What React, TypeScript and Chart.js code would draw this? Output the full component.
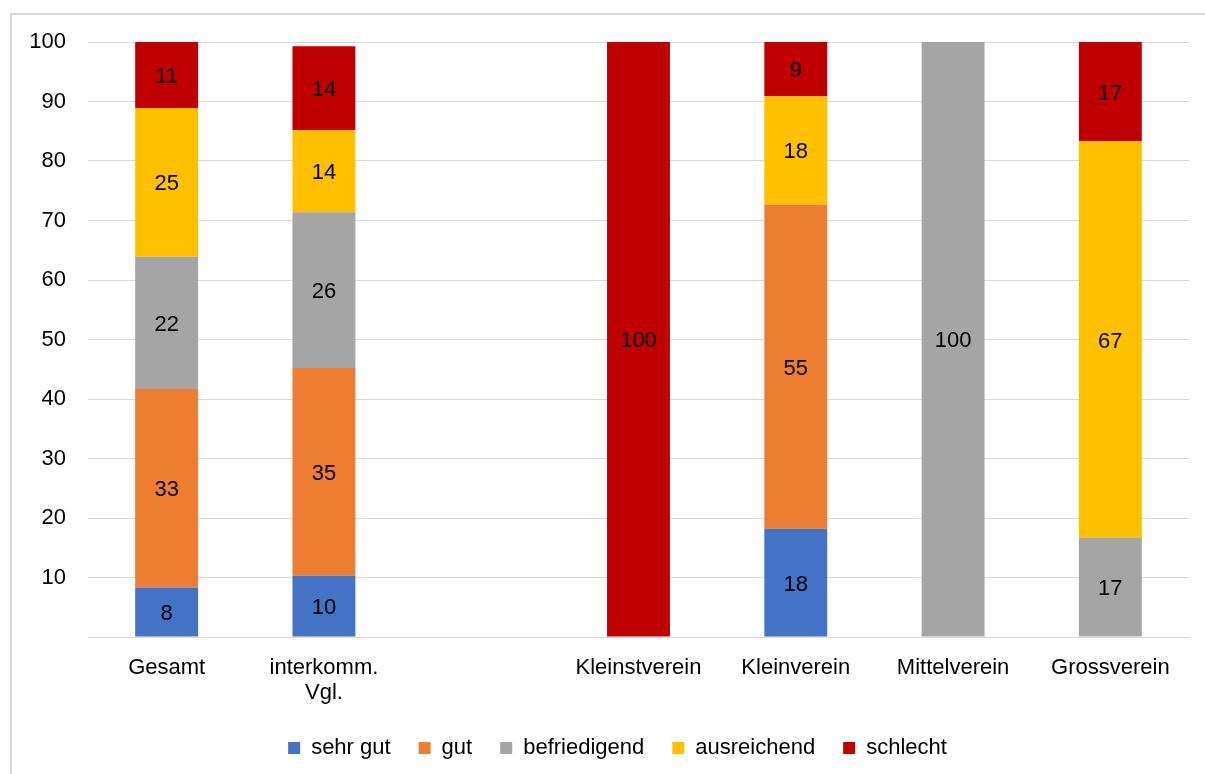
import React, { useEffect, useRef } from "react";
import { Chart, registerables } from "chart.js";

Chart.register(...registerables);

const categories: (string | string[])[] = [
  "Gesamt",
  ["interkomm.", "Vgl."],
  "",
  "Kleinstverein",
  "Kleinverein",
  "Mittelverein",
  "Grossverein",
];

const seriesNames = ["sehr gut", "gut", "befriedigend", "ausreichend", "schlecht"];
const seriesColors = ["#4472C4", "#ED7D31", "#A5A5A5", "#FFC000", "#C00000"];

const sehrGut = [8.3, 10.3, null, 0, 18.2, 0, 0];
const gut = [33.4, 34.9, null, 0, 54.5, 0, 0];
const befriedigend = [22.2, 26.2, null, 0, 0, 100, 16.7];
const ausreichend = [25.0, 13.8, null, 0, 18.2, 0, 66.6];
const schlecht = [11.1, 14.1, null, 100, 9.1, 0, 16.7];

const yTicks = [10, 20, 30, 40, 50, 60, 70, 80, 90, 100];

const FONT = "'Liberation Sans', Arial, sans-serif";
const FS = 22;

const valueLabels = {
  id: "valueLabels",
  afterDatasetsDraw(chart: any) {
    const ctx = chart.ctx;
    ctx.save();
    ctx.font = `${FS}px ${FONT}`;
    ctx.fillStyle = "#000";
    ctx.textAlign = "center";
    ctx.textBaseline = "middle";
    chart.data.datasets.forEach((ds: any, di: number) => {
      const meta = chart.getDatasetMeta(di);
      meta.data.forEach((el: any, i: number) => {
        const v = ds.data[i];
        if (v === null || v === undefined || v <= 0) return;
        const { x, y, base } = el.getProps(["x", "y", "base"], true);
        ctx.fillText(String(Math.round(v)), x, (y + base) / 2 + 2);
      });
    });
    ctx.restore();
  },
};

const legendShift = {
  id: "legendShift",
  afterLayout(chart: any) {
    const lg = chart.legend;
    if (lg) {
      lg.left += 23;
      lg.right += 23;
    }
  },
};

export default function App() {
  const ref = useRef<HTMLCanvasElement | null>(null);

  useEffect(() => {
    if (!ref.current) return;
    const all = [sehrGut, gut, befriedigend, ausreichend, schlecht];
    const chart = new Chart(ref.current, {
      type: "bar",
      data: {
        labels: categories as any,
        datasets: all.map((d, i) => ({
          label: seriesNames[i],
          data: d as any,
          backgroundColor: seriesColors[i],
          borderWidth: 0,
          barPercentage: 0.4,
          categoryPercentage: 1,
        })),
      },
      options: {
        responsive: false,
        animation: false,
        layout: { padding: { top: 42, left: 0, right: 16, bottom: 5 } },
        plugins: {
          legend: {
            position: "bottom",
            labels: {
              boxWidth: 12,
              boxHeight: 12,
              padding: 28,
              color: "#000",
              font: { family: FONT, size: FS },
            },
          },
          tooltip: { enabled: false },
        },
        scales: {
          x: {
            stacked: true,
            grid: { display: false, drawTicks: false },
            border: { display: true, color: "#d9d9d9", width: 1 },
            ticks: {
              color: "#000",
              padding: 18,
              maxRotation: 0,
              autoSkip: false,
              font: { family: FONT, size: FS, lineHeight: 25 / 22 },
            },
            afterFit: (s: any) => {
              s.height = 72;
            },
          },
          y: {
            stacked: true,
            min: 0,
            max: 100,
            afterFit: (s: any) => {
              s.width = 88;
            },
            afterBuildTicks: (s: any) => {
              s.ticks = [0, ...yTicks].map((v) => ({ value: v }));
            },
            grid: { color: "#d9d9d9", lineWidth: 1, drawTicks: false },
            border: { display: false },
            ticks: {
              color: "#000",
              padding: 22,
              font: { family: FONT, size: FS },
              callback: (v: any) => (v === 0 ? "" : String(v)),
            },
          },
        },
      },
      plugins: [valueLabels, legendShift],
    });
    return () => chart.destroy();
  }, []);

  return (
    <div style={{ position: "absolute", left: 0, top: 0, width: 1205, height: 774, overflow: "hidden", background: "#fff" }}>
      <div
        style={{
          position: "absolute",
          left: 10,
          top: 13,
          width: 1300,
          height: 900,
          border: "2px solid #d9d9d9",
        }}
      />
      <canvas ref={ref} width={1205} height={774} style={{ position: "absolute", left: 0, top: 0 }} />
    </div>
  );
}
